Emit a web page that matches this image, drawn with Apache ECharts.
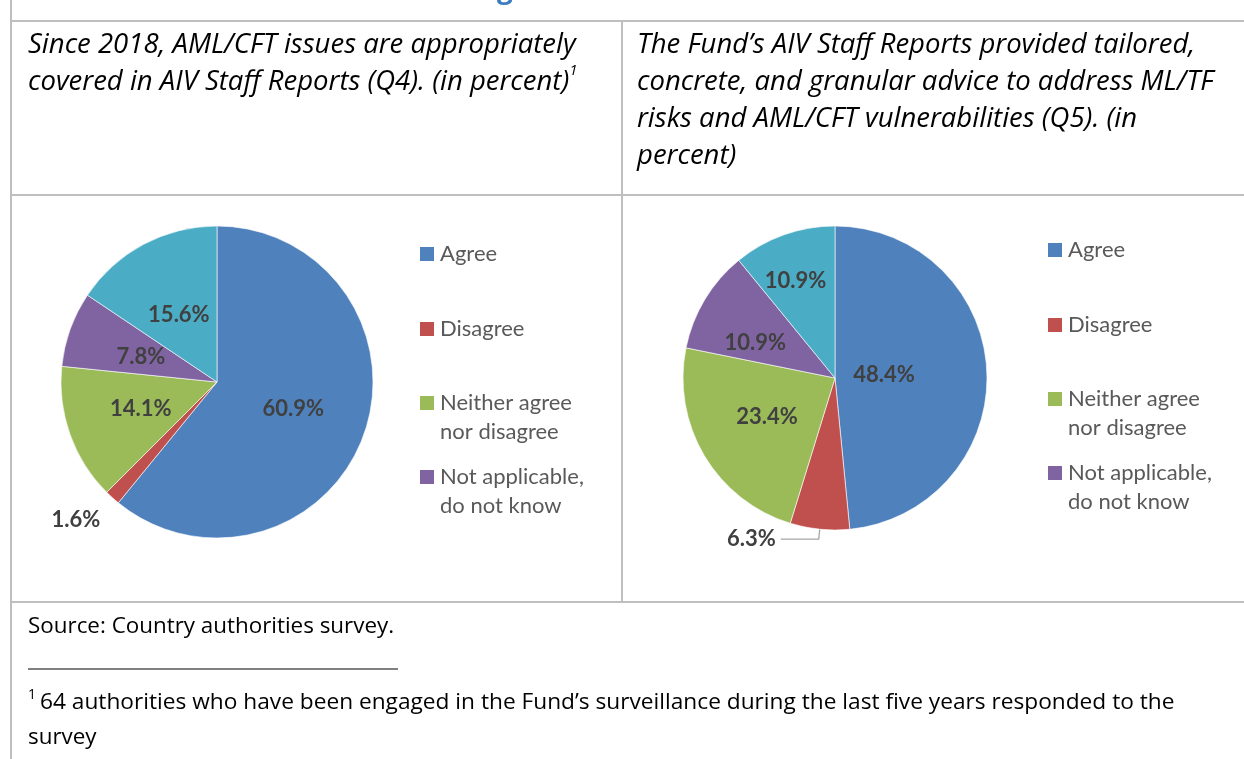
<!DOCTYPE html>
<html><head><meta charset="utf-8">
<script src="https://cdn.jsdelivr.net/npm/echarts@6/dist/echarts.min.js"></script>
<style>html,body{margin:0;padding:0;background:#fff}#c{width:1244px;height:759px}</style>
</head><body><div id="c"></div>
<script>
// ---- data ----
const categories = ['Agree', 'Disagree', 'Neither agree\nnor disagree', 'Not applicable,\ndo not know', 'Other'];
const legendCategories = ['Agree', 'Disagree', 'Neither agree\nnor disagree', 'Not applicable,\ndo not know'];
const q4Values = [60.9, 1.6, 14.1, 7.8, 15.6];
const q5Values = [48.4, 6.3, 23.4, 10.9, 10.9];
const colors = ['#4f81bd', '#c0504d', '#9bbb59', '#8064a2', '#4bacc6'];
const q4Title = ['Since 2018, AML/CFT issues are appropriately', 'covered in AIV Staff Reports (Q4). (in percent)'];
const q5Title = ['The Fund\u2019s AIV Staff Reports provided tailored,', 'concrete, and granular advice to address ML/TF', 'risks and AML/CFT vulnerabilities (Q5). (in', 'percent)'];
const sourceText = 'Source: Country authorities survey.';
const footnoteLines = ['64 authorities who have been engaged in the Fund\u2019s surveillance during the last five years responded to the', 'survey'];

// ---- layout / style ----
const LBL_FONT = 'Lato';
const TXT_FONT = '"Open Sans"';
const gridColor = '#bfbfbf';
const chart = echarts.init(document.getElementById('c'), null, {renderer: 'canvas'});

function pieSeries(values, center, radius, disagreeLabel, disagreeLine, nudges) {
  return {
    type: 'pie', center: center, radius: radius, startAngle: 90, clockwise: true,
    avoidLabelOverlap: false, silent: true,
    emphasis: {disabled: true},
    itemStyle: {borderColor: '#ffffff', borderWidth: 0.6},
    label: {position: 'inside', formatter: p => p.value.toFixed(1) + '%',
      fontFamily: LBL_FONT, fontWeight: 'bold', fontSize: 22, color: '#404040'},
    labelLine: {show: false},
    labelLayout: function (params) {
      const d = nudges[params.dataIndex] || [0, 0];
      return {dx: d[0], dy: d[1]};
    },
    data: values.map((v, i) => {
      const item = {name: categories[i], value: v, itemStyle: {color: colors[i]}};
      if (i === 1) { item.label = disagreeLabel; item.labelLine = disagreeLine; }
      return item;
    })
  };
}

function legends(x, centers) {
  return legendCategories.map((name, i) => {
    const twoLine = name.indexOf('\n') >= 0;
    return {
      orient: 'vertical', left: x, top: centers[i] - (twoLine ? 43.5 : 14.5), padding: 0,
      icon: 'rect', itemWidth: 16, itemHeight: 16, selectedMode: false,
      // two-line names get an empty leading line so the icon sits beside the first line
      formatter: twoLine ? (n => '\n' + n) : (n => n),
      textStyle: {fontFamily: LBL_FONT, fontSize: 22, color: '#595959', lineHeight: 29},
      data: [name]
    };
  });
}

const graphics = [];
function hline(x1, x2, y) { graphics.push({type: 'line', shape: {x1: x1, y1: y, x2: x2, y2: y}, style: {stroke: gridColor, lineWidth: 2}, silent: true}); }
function vline(x, y1, y2) { graphics.push({type: 'line', shape: {x1: x, y1: y1, x2: x, y2: y2}, style: {stroke: gridColor, lineWidth: 2}, silent: true}); }
function text(str, x, y, font, fill, extra) {
  graphics.push({type: 'text', x: x, y: y, silent: true,
    style: Object.assign({text: str, font: font, fill: fill || '#000', verticalAlign: 'middle', align: 'left'}, extra || {})});
}
vline(11, 0, 759);
hline(10, 1244, 21);
hline(10, 1244, 195);
hline(10, 1244, 602);
vline(622, 21, 602);
// cut-off heading fragment
text('g', 497, -10, 'bold 28px ' + TXT_FONT, '#3b7cc0');
// column headers
const titleFont = 'italic 27.5px ' + TXT_FONT;
text(q4Title[0], 28, 45, titleFont);
graphics.push({type: 'text', x: 28, y: 82, silent: true, style: {
  text: '{n|' + q4Title[1] + '}{s|1}', verticalAlign: 'middle', align: 'left',
  rich: {n: {font: titleFont, fill: '#000', lineHeight: 37}, s: {font: 'italic 15px ' + TXT_FONT, fill: '#000', verticalAlign: 'top', lineHeight: 20}}
}});
q5Title.forEach((t, i) => text(t, 637, 45 + i * 37, titleFont));
// footer
const footFont = '22.4px ' + TXT_FONT;
text(sourceText, 28, 627, footFont);
graphics.push({type: 'line', shape: {x1: 28, y1: 669, x2: 398, y2: 669}, style: {stroke: '#000', lineWidth: 1}, silent: true});
text('1', 28, 695, '14px ' + TXT_FONT);
text(footnoteLines[0], 40, 703, '22.7px ' + TXT_FONT);
text(footnoteLines[1], 28, 738, footFont);

chart.setOption({
  backgroundColor: '#ffffff',
  animation: false,
  legend: legends(418, [254, 329, 403, 477]).concat(legends(1046, [250, 325, 399, 473])),
  series: [
    pieSeries(q4Values, [217, 382], 156,
      {position: 'outside', distanceToLabelLine: -8},
      {show: false, length: 30, length2: 0},
      [[0, 0], [0, 0], [0, 0], [0, 2], [0, 4]]),
    pieSeries(q5Values, [835, 378], 152,
      {position: 'outside', distanceToLabelLine: 5},
      {show: true, length: 10, length2: 38, lineStyle: {color: '#a6a6a6', width: 1.3}},
      [[-30, 1], [0, 0], [0, -1], [-12, 6], [-13, -23]])
  ],
  graphic: {elements: graphics}
});
</script></body></html>
